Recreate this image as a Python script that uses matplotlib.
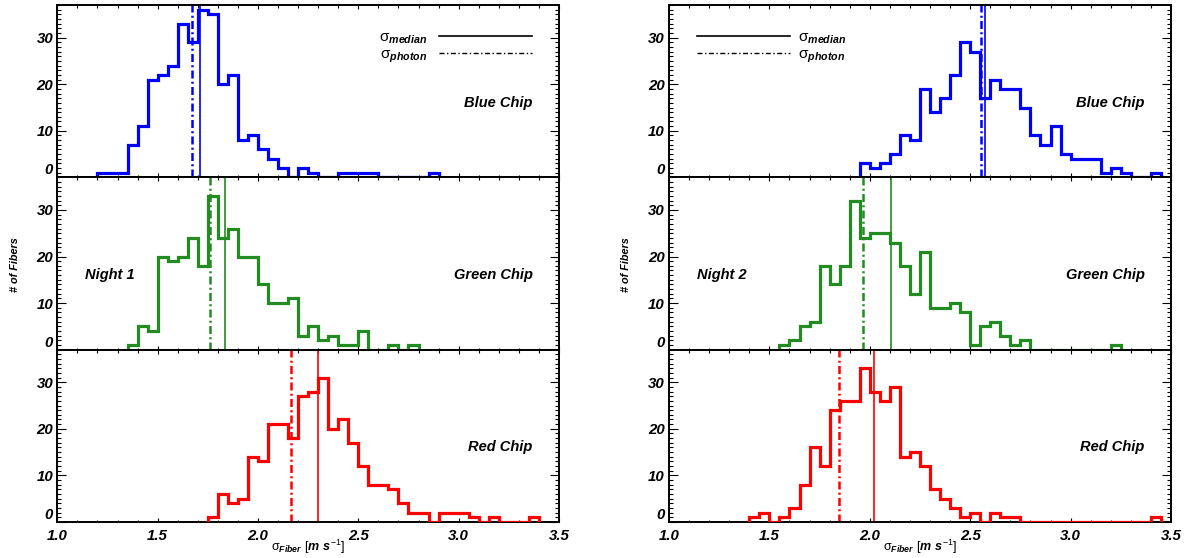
import numpy as np
import matplotlib
matplotlib.use("Agg")
import matplotlib.pyplot as plt
from matplotlib.lines import Line2D
from matplotlib.ticker import MultipleLocator
from matplotlib import font_manager as fm

# ---------------- data ----------------
bin_width = 0.05
nights = ["Night 1", "Night 2"]
chips = ["Blue Chip", "Green Chip", "Red Chip"]
chip_colors = ["#0000FF", "#228B22", "#FF0000"]

# Night 1 histograms (counts per 0.05 m/s bin), with first bin left edge
n1_blue_start = 1.20
n1_blue = [1, 1, 1, 7, 11, 21, 22, 24, 33, 29, 36, 35, 20, 22, 8, 9, 6, 4, 2, 0,
           2, 1, 0, 0, 1, 1, 1, 1, 0, 0, 0, 0, 0, 1]
n1_green_start = 1.35
n1_green = [1, 5, 4, 20, 19, 20, 24, 18, 33, 24, 26, 20, 20, 14, 10, 10, 11, 3, 5, 2,
            3, 1, 1, 4, 0, 0, 1, 0, 1]
n1_red_start = 1.75
n1_red = [1, 6, 4, 5, 14, 13, 21, 21, 18, 27, 28, 31, 20, 22, 17, 12, 8, 8, 7, 4,
          2, 2, 0, 2, 2, 2, 1, 0, 1, 0, 0, 0, 1]

# Night 2 histograms
n2_blue_start = 1.95
n2_blue = [3, 2, 3, 5, 9, 8, 19, 14, 17, 22, 29, 27, 17, 21, 19, 19, 15, 9, 7, 11,
           5, 4, 4, 4, 1, 2, 1, 0, 0, 1]
n2_green_start = 1.55
n2_green = [1, 2, 5, 6, 18, 14, 18, 32, 24, 25, 25, 23, 18, 12, 21, 9, 9, 10, 8, 1,
            5, 6, 3, 1, 2, 0, 0, 0, 0, 0, 0, 0, 0, 1]
n2_red_start = 1.40
n2_red = [1, 2, 0, 1, 3, 8, 16, 12, 24, 26, 26, 33, 28, 26, 29, 14, 15, 12, 7, 5,
          3, 1, 2, 0, 2, 1, 1, 0, 0, 0, 0, 0, 0, 0, 0, 0, 0, 0, 0, 0, 1]

# median and photon-noise values (m/s), order: blue, green, red
n1_median = [1.709, 1.838, 2.300]
n1_photon = [1.672, 1.759, 2.167]
n2_median = [2.574, 2.106, 2.020]
n2_photon = [2.552, 1.965, 1.845]

x_ticks = [1.0, 1.5, 2.0, 2.5, 3.0, 3.5]
x_ticklabels = ["1.0", "1.5", "2.0", "2.5", "3.0", "3.5"]
y_ticks = [0, 10, 20, 30]
y_ticklabels = ["0", "10", "20", "30"]

hist_data = [
    [(n1_blue_start, n1_blue), (n1_green_start, n1_green), (n1_red_start, n1_red)],
    [(n2_blue_start, n2_blue), (n2_green_start, n2_green), (n2_red_start, n2_red)],
]
medians = [n1_median, n2_median]
photons = [n1_photon, n2_photon]

# ---------------- style ----------------
names = {f.name for f in fm.fontManager.ttflist}
BASE = "Liberation Sans" if "Liberation Sans" in names else "DejaVu Sans"
NARROW = "Liberation Sans Narrow" if "Liberation Sans Narrow" in names else BASE
label_size = 12.5 if NARROW != BASE else 10.5

plt.rcParams["font.family"] = [BASE, "DejaVu Sans"]
plt.rcParams["mathtext.fontset"] = "custom"
plt.rcParams["mathtext.rm"] = BASE
plt.rcParams["mathtext.it"] = BASE + ":italic:bold"
plt.rcParams["mathtext.bf"] = BASE + ":bold"

W, H = 1187, 558
fig = plt.figure(figsize=(W / 100, H / 100), dpi=100)

col_x0 = [57.3, 669.0]
col_w = [501.7, 502.0]
row_top = [5.0, 177.3, 349.6]
row_h = 172.4


def rect(x0, ytop, w, h):
    return [x0 / W, 1 - (ytop + h) / H, w / W, h / H]


dash_vert = (3.2, 1.3, 0.8, 1.3)
dash_leg = (3.6, 1.8, 1.0, 1.8)

for c in range(2):
    for r in range(3):
        ax = fig.add_axes(rect(col_x0[c], row_top[r], col_w[c], row_h))
        start, counts = hist_data[c][r]
        counts = np.asarray(counts, dtype=float)
        edges = start + bin_width * np.arange(len(counts) + 1)
        col = chip_colors[r]
        ax.stairs(counts, edges, baseline=0, color=col, lw=2.3, zorder=3)
        ax.axvline(medians[c][r], color=col, lw=1.2, zorder=2)
        ax.axvline(photons[c][r], color=col, lw=1.8, linestyle=(0, dash_vert), zorder=2)

        ax.set_xlim(1.0, 3.5)
        ax.set_ylim(0, 37)
        ax.set_xticks(x_ticks)
        ax.xaxis.set_minor_locator(MultipleLocator(0.1))
        ax.set_yticks(y_ticks, labels=y_ticklabels)
        ax.yaxis.set_minor_locator(MultipleLocator(1))
        if r == 2:
            ax.set_xticklabels(x_ticklabels)
        else:
            ax.set_xticklabels([])
        for sp in ax.spines.values():
            sp.set_linewidth(1.4)
        ax.tick_params(which="both", direction="in", top=True, right=True, width=0.8)
        ax.tick_params(axis="x", which="major", length=3.0, pad=5)
        ax.tick_params(axis="x", which="minor", length=1.8)
        ax.tick_params(axis="y", which="major", length=6.7, pad=3)
        ax.tick_params(axis="y", which="minor", length=3.1)
        for lbl in ax.get_xticklabels() + ax.get_yticklabels():
            lbl.set_fontsize(10.8)
            lbl.set_fontweight("bold")
            lbl.set_fontstyle("italic")
        ax.get_yticklabels()[0].set_verticalalignment("bottom")

        ax.text(0.947, 0.433, chips[r], transform=ax.transAxes, ha="right", va="center",
                fontsize=label_size, fontweight="bold", fontstyle="italic",
                family=[NARROW, "DejaVu Sans"])
        if r == 1:
            ax.text(0.056, 0.433, nights[c], transform=ax.transAxes, ha="left", va="center",
                    fontsize=label_size, fontweight="bold", fontstyle="italic",
                    family=[NARROW, "DejaVu Sans"])
            ax.text(-0.085, 0.495, "# of Fibers", transform=ax.transAxes, rotation=90,
                    ha="center", va="center", fontsize=7.8, fontweight="bold",
                    fontstyle="italic")
        if r == 0:
            handles = [Line2D([], [], color="k", lw=1.2),
                       Line2D([], [], color="k", lw=1.0, linestyle=(0, dash_leg))]
            labels = [r"$\mathrm{\sigma}_{\mathit{median}}$", r"$\mathrm{\sigma}_{\mathit{photon}}$"]
            common = dict(frameon=False, fontsize=11, labelspacing=0.12, borderpad=0,
                          borderaxespad=0, handlelength=6.1)
            if c == 0:
                ax.legend(handles, labels, loc="upper right",
                          bbox_to_anchor=(0.946, 0.852), markerfirst=False,
                          handletextpad=0.75, **common)
            else:
                ax.legend(handles, labels, loc="upper left",
                          bbox_to_anchor=(0.056, 0.852), markerfirst=True,
                          handletextpad=0.5, **common)
        if r == 2:
            ax.text(0.5, -0.145, r"$\mathrm{\sigma}_{\mathit{Fiber}}\ \mathit{[m\ s^{-1}]}$",
                    transform=ax.transAxes, ha="center", va="center", fontsize=9)

fig.savefig("out.png", dpi=100)
